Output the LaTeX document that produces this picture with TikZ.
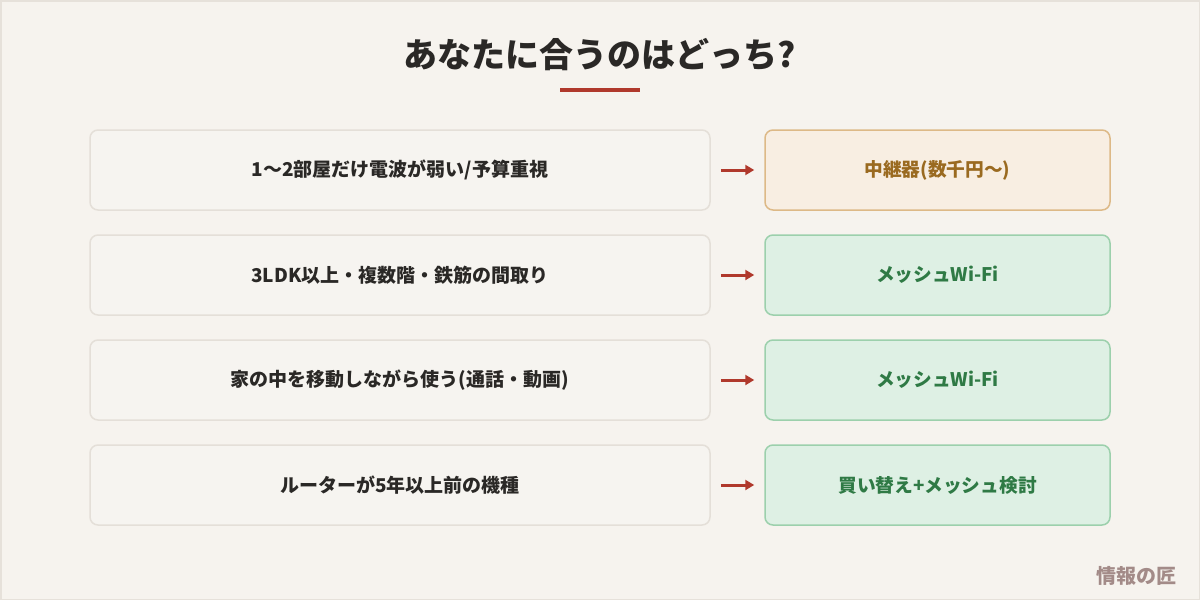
\documentclass[tikz,border=0pt]{standalone}
\usepackage{fontspec}
\setmainfont{Noto Sans CJK JP}
\usetikzlibrary{arrows.meta}
\definecolor{bg}{HTML}{F6F3EE}
\definecolor{frame}{HTML}{E6E1DA}
\definecolor{lfill}{HTML}{F6F4F0}
\definecolor{lborder}{HTML}{E4DFD8}
\definecolor{ink}{HTML}{2A2826}
\definecolor{accent}{HTML}{B0392C}
\definecolor{ofill}{HTML}{F8EEE2}
\definecolor{oborder}{HTML}{DDB987}
\definecolor{otext}{HTML}{9A6A20}
\definecolor{gfill}{HTML}{DEF0E4}
\definecolor{gborder}{HTML}{9CD0AC}
\definecolor{gtext}{HTML}{2F7A45}
\definecolor{mark}{HTML}{A38B88}
\tikzset{
  leftbox/.style={draw=lborder, line width=1.5pt, fill=lfill, rounded corners=8pt,
    minimum width=620pt, minimum height=80pt, inner sep=0pt, text=ink,
    font=\fontsize{19}{22}\selectfont\bfseries},
  optbox/.style={draw=oborder, line width=1.5pt, fill=ofill, rounded corners=8pt,
    minimum width=345pt, minimum height=80pt, inner sep=0pt, text=otext,
    font=\fontsize{18.7}{22}\selectfont\bfseries},
  meshbox/.style={draw=gborder, line width=1.5pt, fill=gfill, rounded corners=8pt,
    minimum width=345pt, minimum height=80pt, inner sep=0pt, text=gtext,
    font=\fontsize{18.7}{22}\selectfont\bfseries},
  pointer/.style={draw=accent, line width=3pt, -{Triangle[length=9pt,width=10pt]},
    shorten <=10pt, shorten >=10pt}
}
\begin{document}
\begin{tikzpicture}[x=1pt,y=-1pt]
\fill[bg] (0,0) rectangle (1200,600);
\draw[frame, line width=1.5pt] (0.75,0.75) rectangle (1199.25,599.25);
\useasboundingbox (0,0) rectangle (1200,600);
\node[text=ink, font=\fontsize{34}{40}\selectfont\bfseries] (title) at (600,55) {あなたに合うのはどっち?};
\draw[accent, line width=4pt] (560,90) -- (640,90);
\node[leftbox] (l1) at (400,170) {1〜2部屋だけ電波が弱い/予算重視};
\node[leftbox] (l2) at (400,275) {3LDK以上・複数階・鉄筋の間取り};
\node[leftbox] (l3) at (400,380) {家の中を移動しながら使う(通話・動画)};
\node[leftbox] (l4) at (400,485) {ルーターが5年以上前の機種};
\node[optbox] (r1) at (937.5,170) {中継器(数千円〜)};
\node[meshbox] (r2) at (937.5,275) {メッシュWi-Fi};
\node[meshbox] (r3) at (937.5,380) {メッシュWi-Fi};
\node[meshbox] (r4) at (937.5,485) {買い替え+メッシュ検討};
\draw[pointer] (l1.east) -- (r1.west);
\draw[pointer] (l2.east) -- (r2.west);
\draw[pointer] (l3.east) -- (r3.west);
\draw[pointer] (l4.east) -- (r4.west);
\node[text=mark, font=\fontsize{20}{22}\selectfont\bfseries] (wm) at (1136,576) {情報の匠};
\end{tikzpicture}
\end{document}
